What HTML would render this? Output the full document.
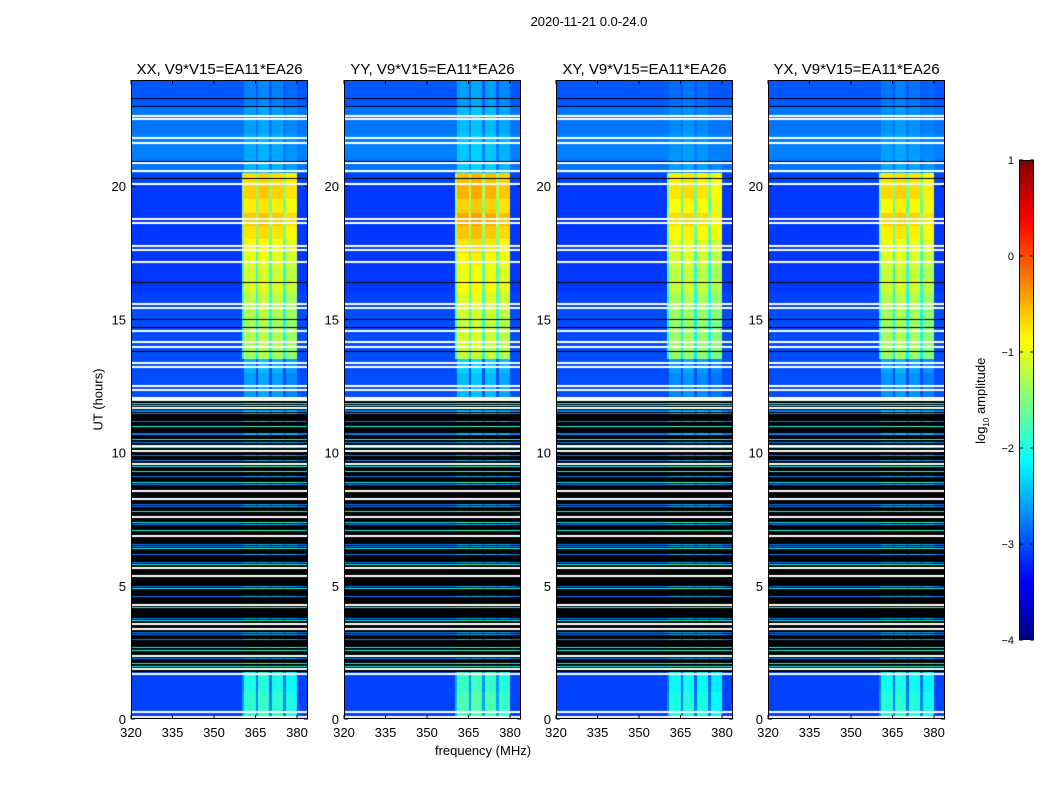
<!DOCTYPE html>
<html><head><meta charset="utf-8"><style>
html,body{margin:0;padding:0;background:#fff;}
#root{position:relative;width:1050px;height:800px;overflow:hidden;font-family:"Liberation Sans",sans-serif;color:#000;}
.t{position:absolute;white-space:nowrap;}
canvas{position:absolute;}
</style></head><body>
<div id="root">
<div class="t" style="left:489px;top:14px;width:200px;text-align:center;font-size:13px;">2020-11-21 0.0-24.0</div>
<div class="t" style="left:48px;top:392px;width:100px;text-align:center;font-size:13px;transform:rotate(-90deg);">UT (hours)</div>
<div class="t" style="left:383px;top:743px;width:200px;text-align:center;font-size:13px;">frequency (MHz)</div>
<canvas id="cbar" width="15" height="480" style="left:1019px;top:160px;"></canvas>
<div class="t" style="left:922px;top:392px;width:120px;text-align:center;font-size:13px;transform:rotate(-90deg);">log<sub style="font-size:8px">10</sub> amplitude</div>
<svg id="ov" width="1050" height="800" style="position:absolute;left:0;top:0;"></svg>
</div>
<script>
const panelTitles=["XX, V9*V15=EA11*EA26","YY, V9*V15=EA11*EA26","XY, V9*V15=EA11*EA26","YX, V9*V15=EA11*EA26"];
const panelLefts=[131,344,556,768];
const panelBurstOffset=[0,0.15,-0.1,-0.05];
const xTicks=[320,335,350,365,380];
const yTicks=[0,5,10,15,20];
const cbarTicks=[1,0,-1,-2,-3,-4];
const flaggedSpan=[1.8,12.0];
const whiteRows=[0.12,0.3,1.72,1.9,2.42,3.42,3.6,4.3,5.4,5.7,6.9,7.6,8.3,8.6,9.62,10.1,10.3,11.72,12.0,12.05,12.1,12.4,12.55,13.25,13.4,14.0,14.18,14.6,15.45,15.6,17.2,17.62,17.8,18.66,18.8,20.12,20.6,20.9,21.65,21.82,22.55,22.66];
const blackRows=[1.8,13.8,14.7,15.0,16.4,20.3,20.95,23.0,23.3];
const cyanRows=[2.0,2.1,2.6,2.7,3.7,4.2,4.9,5.8,6.4,7.1,7.4,7.8,8.9,9.3,9.5,10.2,10.5,11.0,11.8,11.85];
const blueRows=[2.3,2.35,3.0,3.2,3.25,3.8,4.6,5.0,5.9,6.2,6.5,6.55,7.3,8.0,8.05,8.8,9.1,9.7,9.9,10.4,10.7,10.75,11.2,11.5,11.55,11.6];
// burst level per 0.5 h (48 values, hour 0..23.5)
const burstLevel=[-1.9,-1.9,-2.0,-2.0,-2.2,-2.2,-2.2,-2.2,-2.2,-2.2,-2.2,-2.2,-2.2,-2.2,-2.2,-2.2,-2.2,-2.2,-2.2,-2.2,-2.2,-2.2,-2.2,-2.2,-2.6,-2.6,-2.5,-1.3,-1.25,-1.3,-1.25,-1.2,-1.05,-1.1,-1.0,-0.9,-0.75,-0.6,-0.8,-0.65,-0.7,-2.5,-2.55,-2.55,-2.6,-2.6,-2.75,-2.75];
// background per 0.5 h
const bgLevel=[-3.05,-3.05,-3.05,-3.05,-3.05,-3.05,-3.05,-3.05,-3.05,-3.05,-3.05,-3.05,-3.05,-3.05,-3.05,-3.05,-3.05,-3.05,-3.05,-3.05,-3.05,-3.05,-3.05,-3.05,-3.0,-3.0,-3.0,-3.0,-3.0,-3.0,-3.0,-3.05,-3.1,-3.1,-3.1,-3.1,-3.1,-3.1,-3.1,-3.1,-3.05,-2.8,-2.75,-2.75,-2.8,-2.8,-2.95,-2.95];
// channel gain in band (1 MHz channels from 320 MHz), null = out of band
const channelGain=[null,null,null,null,null,null,null,null,null,null,null,null,null,null,null,null,null,null,null,null,null,null,null,null,null,null,null,null,null,null,null,null,null,null,null,null,null,null,null,null,-0.7,0,0,0,0,-0.8,0.05,0.05,0.05,0.05,-0.8,0,0,0,0,-0.8,-0.1,-0.1,-0.1,-0.1,null,null,null,null];

const PY0=80,PY1=719,PW=177;
function xScale(f,left){return left+(f-320)*(297-131)/60;}
function yScale(h){return 719-h*(719-186)/20;}
function jet(v){const x=Math.max(0,Math.min(1,(v+4)/5));const c=t=>Math.round(255*Math.max(0,Math.min(1,1.5-Math.abs(4*x-t))));return `rgb(${c(3)},${c(2)},${c(1)})`;}
const root=document.getElementById('root');
const ov=document.getElementById('ov');
const NS='http://www.w3.org/2000/svg';
function sv(tag,attrs,parent){const e=document.createElementNS(NS,tag);for(const k in attrs)e.setAttribute(k,attrs[k]);(parent||ov).appendChild(e);return e;}

panelLefts.forEach((left,p)=>{
  const cv=document.createElement('canvas');
  cv.width=PW;cv.height=PY1-PY0;
  cv.style.left=left+'px';cv.style.top=PY0+'px';
  
  
  root.insertBefore(cv,ov);
  const ctx=cv.getContext('2d');
  const colX=j=>Math.round(xScale(320+j,0));
  function lineRow(h,th,vOut,vIn){
    const y=Math.round(yScale(h)-PY0);
    for(let j=0;j<channelGain.length;j++){
      const g=channelGain[j];
      ctx.fillStyle=(vOut===null)?(vIn):jet(g===null?vOut:vIn+g*0.3);
      ctx.fillRect(colX(j),y,colX(j+1)-colX(j),th);
    }
  }
  for(let i=0;i<240;i++){
    const h=i/10;
    const yT=Math.round(yScale(h+0.1)-PY0), yB=Math.round(yScale(h)-PY0);
    if(h>=flaggedSpan[0]-0.001&&h<flaggedSpan[1]-0.001){ctx.fillStyle='#000';ctx.fillRect(0,yT,PW,yB-yT);continue;}
    const hb=Math.min(47,Math.floor(h*2));
    for(let j=0;j<channelGain.length;j++){
      const g=channelGain[j];
      let v=bgLevel[hb];
      if(g!==null) v=Math.max(v,burstLevel[hb]+panelBurstOffset[p]+g);
      ctx.fillStyle=jet(v);
      ctx.fillRect(colX(j),yT,colX(j+1)-colX(j),yB-yT);
    }
  }
  cyanRows.forEach(h=>lineRow(h,1,-2.1,-1.8));
  blueRows.forEach(h=>lineRow(h,1,-2.75,-2.45));
  blackRows.forEach(h=>lineRow(h,1,null,'#000'));
  whiteRows.forEach(h=>lineRow(h,2,null,'#fff'));
  const g=sv('g',{});
  
  
  sv('rect',{x:left+0.5,y:PY0+0.5,width:PW-1,height:PY1-PY0-1,fill:'none',stroke:'#000','stroke-width':1},g);
  xTicks.forEach(f=>{const x=xScale(f,left);
    sv('line',{x1:x,x2:x,y1:PY1,y2:PY1-4,stroke:'#000'},g);
    sv('line',{x1:x,x2:x,y1:PY0,y2:PY0+4,stroke:'#000'},g);
    const t=sv('text',{x:x,y:PY1+18,'text-anchor':'middle','font-size':13,'font-family':'Liberation Sans'},g);t.textContent=f;});
  yTicks.forEach(h=>{const y=yScale(h);
    sv('line',{x1:left,x2:left+4,y1:y,y2:y,stroke:'#000'},g);
    sv('line',{x1:left+PW,x2:left+PW-4,y1:y,y2:y,stroke:'#000'},g);
    const t=sv('text',{x:left-5,y:y+5,'text-anchor':'end','font-size':13,'font-family':'Liberation Sans'},g);t.textContent=h;});
  const tt=sv('text',{x:left+PW/2,y:74,'text-anchor':'middle','font-size':15,'font-family':'Liberation Sans'},g);
  tt.textContent=panelTitles[p];
  
  
});

const cb=document.getElementById('cbar').getContext('2d');
for(let y=0;y<480;y++){cb.fillStyle=jet(1-5*y/480);cb.fillRect(0,y,15,1);}
sv('rect',{x:1019.5,y:160.5,width:14,height:479,fill:'none',stroke:'#000'});
cbarTicks.forEach(v=>{const y=160+(1-v)/5*480;
  sv('line',{x1:1019,x2:1023,y1:y,y2:y,stroke:'#000'});
  sv('line',{x1:1034,x2:1030,y1:y,y2:y,stroke:'#000'});
  const t=sv('text',{x:1014,y:y+4,'text-anchor':'end','font-size':11,'font-family':'Liberation Sans'});
  t.textContent=v<0?'\u2212'+(-v):String(v);
  
  
});
</script>
</body></html>
